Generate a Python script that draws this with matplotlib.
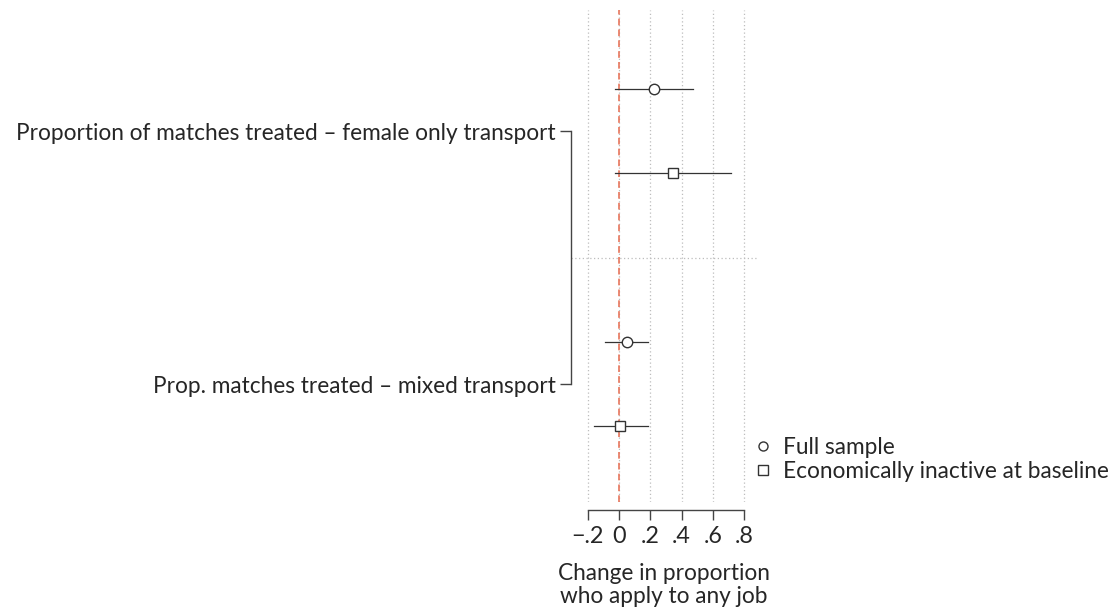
import matplotlib
matplotlib.use("Agg")
import matplotlib.pyplot as plt
from matplotlib.lines import Line2D

plt.rcParams['font.family'] = ['Lato', 'DejaVu Sans']

# coefficient estimates with 95% CIs
groups = ['Proportion of matches treated \u2013 female only transport',
          'Prop. matches treated \u2013 mixed transport']
series = ['Full sample', 'Economically inactive at baseline']
markers = ['o', 's']
coef = [[0.226, 0.345],   # female only: full, inactive
        [0.049, 0.008]]   # mixed: full, inactive
lo = [[-0.025, -0.025],
      [-0.090, -0.160]]
hi = [[0.475, 0.714],
      [0.187, 0.183]]
xticks = [-0.2, 0, 0.2, 0.4, 0.6, 0.8]
xticklabels = ['\u2212.2', '0', '.2', '.4', '.6', '.8']

txt = '#262626'
fs = 16.3

fig = plt.figure(figsize=(11.19, 6.14), dpi=100)
ax = fig.add_axes([571/1119, 1 - 502/614, 186/1119, 492/614])

# spines first (set_position resets tick formatting)
for sp in ['top', 'right']:
    ax.spines[sp].set_visible(False)
ax.spines['bottom'].set_position(('outward', 6))

for v in xticks:
    ax.axvline(v, color='#bdbdbd', lw=0.9, ls=(0, (1, 2)), zorder=0)
ax.axhline(3, color='#bdbdbd', lw=0.9, ls=(0, (1, 2)), zorder=0)
ax.axvline(0, color='#e8765c', lw=1.2, ls=(0, (4, 2.5)), zorder=1)

for g in range(len(groups)):
    for s in range(len(series)):
        y = g * 3 + s + 1
        ax.plot([lo[g][s], hi[g][s]], [y, y], color='#333333', lw=0.9, zorder=2)
        ax.plot(coef[g][s], y, marker=markers[s], ms=7.5 if s == 0 else 7.2,
                mfc='white', mec='#333333', mew=1.0, ls='none', zorder=3)

ax.set_xlim(-0.307, 0.882)
ax.set_ylim(5.90, 0.06)

ax.set_xticks(xticks)
ax.set_xticklabels(xticklabels, fontsize=fs + 0.5, color=txt)
ax.set_yticks([1.5, 4.5])
ax.set_yticklabels(groups, fontsize=fs, color=txt)
ax.tick_params(axis='x', length=7, width=1, color='#444444', pad=4)
ax.tick_params(axis='y', length=8, width=1, color='#444444', pad=3)

ax.spines['bottom'].set_bounds(-0.2, 0.8)
ax.spines['left'].set_bounds(1.5, 4.5)
for sp in ['bottom', 'left']:
    ax.spines[sp].set_color('#444444')
    ax.spines[sp].set_linewidth(1)

ax.set_xlabel('Change in proportion\nwho apply to any job', fontsize=fs, color=txt,
              labelpad=12, linespacing=1.08)

handles = [Line2D([], [], marker=m, ls='none', mfc='white', mec='#333333',
                  mew=1.0, ms=6.5) for m in markers]
fig.legend(handles, series, loc='upper left', bbox_to_anchor=(743/1119, 1 - 428/614),
           frameon=False, fontsize=fs, handletextpad=0.35, labelspacing=0.12,
           handlelength=1.0, labelcolor=txt, borderaxespad=0)

fig.savefig('out.png', dpi=100, facecolor='white')
